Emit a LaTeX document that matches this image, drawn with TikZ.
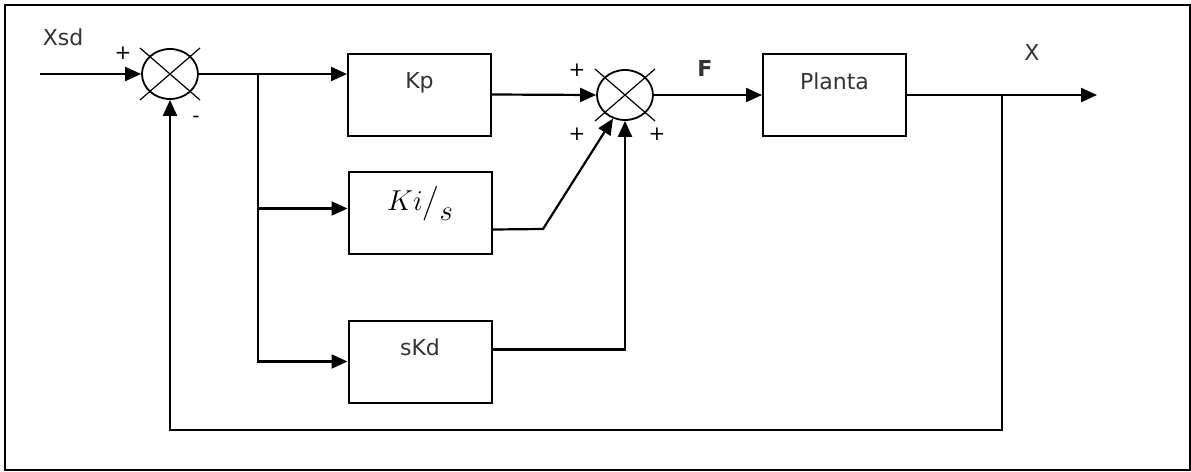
\documentclass[tikz,border=0pt]{standalone}
\usepackage{fontspec}
\setmainfont{DejaVu Sans}
\usepackage{amsmath}
\usetikzlibrary{arrows.meta,shapes.geometric}

\tikzset{
  blk/.style={draw, line width=1pt, minimum width=71.5pt, minimum height=41pt,
    inner sep=0pt, text height=8pt, text depth=14pt},
  sumj/.style={draw, ellipse, line width=0.9pt, minimum width=28pt, minimum height=25pt, inner sep=0pt},
  sgn/.style={inner sep=0pt, font=\fontsize{10}{12}\selectfont},
  lbl/.style={inner sep=0pt, text=black!80}
}

\begin{document}
\begin{tikzpicture}[x=0.5pt,y=-0.5pt,>={Triangle[length=8pt,width=7pt]},
    line width=1.1pt, font=\fontsize{11}{13}\selectfont]
  \useasboundingbox (0,0) rectangle (1191,472);
  \draw[line width=0.8pt] (5,5) rectangle (1190,470);

  % blocks
  \node[blk] (kp) at (419.5,94.5) {\textcolor{black!80}{Kp}};
  \node[blk] (ki) at (420,212.5) {\fontsize{15}{17}\selectfont\raisebox{-2pt}{$Ki\big/\raisebox{-5pt}{$s$}$}};
  \node[blk] (kd) at (420,361.5) {\textcolor{black!80}{sKd}};
  \node[blk] (planta) at (834.5,95) {\textcolor{black!80}{Planta}};

  % summing junctions
  \node[sumj] (s1) at (170,74) {};
  \node[sumj] (s2) at (625,95) {};
  \foreach \s in {s1,s2}{
    \draw[line width=0.6pt] ([shift={(-30,-26)}]\s.center) -- ([shift={(30,26)}]\s.center);
    \draw[line width=0.6pt] ([shift={(-30,26)}]\s.center) -- ([shift={(30,-26)}]\s.center);
  }

  % signals
  \coordinate (in) at (40,74);
  \coordinate (br) at (258,74);
  \coordinate (kibend) at (543,229);
  \coordinate (tap) at (1002,95);
  \coordinate (fb) at (1002,430);
  \coordinate (out) at (1097,95);

  \draw[->] (in) -- (s1.west);
  \draw[->] (s1.east) -- (kp.west |- s1.east);
  \draw[->] (br) |- ([yshift=2pt]ki.west);
  \draw[->] (br) |- (kd.west);
  \draw[->] (kp.east) -- (s2.west);
  \draw[->] ([yshift=-8.5pt]ki.east) -- (kibend) -- (s2.243);
  \draw[->] ([yshift=6pt]kd.east) -| (s2.south);
  \draw[->] (s2.east) -- (planta.west);
  \draw[->] (planta.east) -- (out);
  \draw[->] (tap) -- (fb) -| (s1.south);

  % labels
  \node[lbl] (xsd) at (63,37) {Xsd};
  \node[lbl] (f) at (705,68) {\textbf{F}};
  \node[lbl] (x) at (1032,52) {X};
  \node[sgn] (p1) at (123,53) {+};
  \node[sgn] (m1) at (196,119) {-};
  \node[sgn] (p2) at (577,70) {+};
  \node[sgn] (p3) at (577,134) {+};
  \node[sgn] (p4) at (657,134) {+};
\end{tikzpicture}
\end{document}
